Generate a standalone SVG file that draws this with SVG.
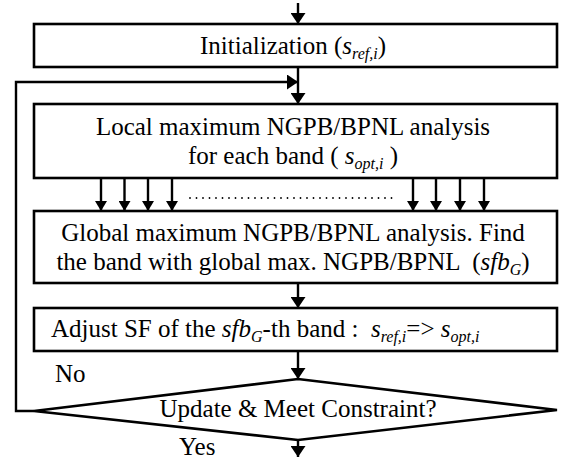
<svg xmlns="http://www.w3.org/2000/svg" width="562" height="462" viewBox="0 0 562 462">
<style>
.box{fill:#fff;stroke:#000;stroke-width:2.6}
.ln{fill:none;stroke:#000;stroke-width:2.4}
.t{font-family:"Liberation Serif","Times New Roman",serif;font-size:25px;fill:#000}
.c{text-anchor:middle}
.i{font-style:italic}
.sub{font-style:italic;font-size:16px}
.dots{fill:none;stroke:#000;stroke-width:1.8;stroke-linecap:round;stroke-dasharray:0 6.5}
</style>
<defs>
<marker id="ah" markerUnits="userSpaceOnUse" markerWidth="11" markerHeight="15" refX="11" refY="7.5" orient="auto">
<path d="M0,0 L11,7.5 L0,15 z" fill="#000"/>
</marker>
<marker id="ahs" markerUnits="userSpaceOnUse" markerWidth="10" markerHeight="12" refX="10" refY="6" orient="auto">
<path d="M0,0 L10,6 L0,12 z" fill="#000"/>
</marker>
</defs>
<g id="connectors">
<line class="ln" x1="298" y1="3" x2="298" y2="24" marker-end="url(#ah)"/>
<line class="ln" x1="298" y1="67" x2="298" y2="104" marker-end="url(#ah)"/>
<polyline class="ln" points="34,411 16,411 16,82 298,82" marker-end="url(#ah)"/>
<line class="ln" x1="101" y1="178" x2="101" y2="211" marker-end="url(#ahs)"/>
<line class="ln" x1="124.5" y1="178" x2="124.5" y2="211" marker-end="url(#ahs)"/>
<line class="ln" x1="148" y1="178" x2="148" y2="211" marker-end="url(#ahs)"/>
<line class="ln" x1="172" y1="178" x2="172" y2="211" marker-end="url(#ahs)"/>
<line class="ln" x1="413" y1="178" x2="413" y2="211" marker-end="url(#ahs)"/>
<line class="ln" x1="436" y1="178" x2="436" y2="211" marker-end="url(#ahs)"/>
<line class="ln" x1="460" y1="178" x2="460" y2="211" marker-end="url(#ahs)"/>
<line class="ln" x1="484" y1="178" x2="484" y2="211" marker-end="url(#ahs)"/>
<line class="dots" x1="190" y1="198" x2="392" y2="198"/>
<line class="ln" x1="298" y1="283" x2="298" y2="308" marker-end="url(#ah)"/>
<line class="ln" x1="298" y1="351" x2="298" y2="379" marker-end="url(#ah)"/>
<line class="ln" x1="298" y1="440" x2="298" y2="457" marker-end="url(#ah)"/>
<text class="t" x="55" y="382">No</text>
<text class="t" x="179" y="455">Yes</text>
</g>
<g id="n-init">
<rect class="box" x="34" y="24" width="523" height="43"/>
<text class="t c" x="293" y="54" xml:space="preserve">Initialization (<tspan class="i">s</tspan><tspan class="sub" dy="5">ref,i</tspan><tspan dy="-5">)</tspan></text>
</g>
<g id="n-local">
<rect class="box" x="34" y="104" width="523" height="74"/>
<text class="t c" x="293" y="135">Local maximum NGPB/BPNL analysis</text>
<text class="t c" x="293" y="164" xml:space="preserve">for each band ( <tspan class="i">s</tspan><tspan class="sub" dy="5">opt,i</tspan><tspan dy="-5"> )</tspan></text>
</g>
<g id="n-global">
<rect class="box" x="34" y="211" width="523" height="72"/>
<text class="t c" x="293" y="241">Global maximum NGPB/BPNL analysis. Find</text>
<text class="t c" x="293" y="270" xml:space="preserve">the band with global max. NGPB/BPNL  (<tspan class="i">sfb</tspan><tspan class="sub" dy="5">G</tspan><tspan dy="-5">)</tspan></text>
</g>
<g id="n-adjust">
<rect class="box" x="34" y="308" width="523" height="43"/>
<text class="t" x="51" y="337" xml:space="preserve">Adjust SF of the <tspan class="i">sfb</tspan><tspan class="sub" dy="5">G</tspan><tspan dy="-5">-th band :  </tspan><tspan class="i">s</tspan><tspan class="sub" dy="5">ref,i</tspan><tspan dy="-5">=&gt; </tspan><tspan class="i">s</tspan><tspan class="sub" dy="5">opt,i</tspan></text>
</g>
<g id="n-decision">
<polygon class="box" points="34,411 298,379 557,410 298,440"/>
<text class="t c" x="298" y="417">Update &amp; Meet Constraint?</text>
</g>
</svg>
